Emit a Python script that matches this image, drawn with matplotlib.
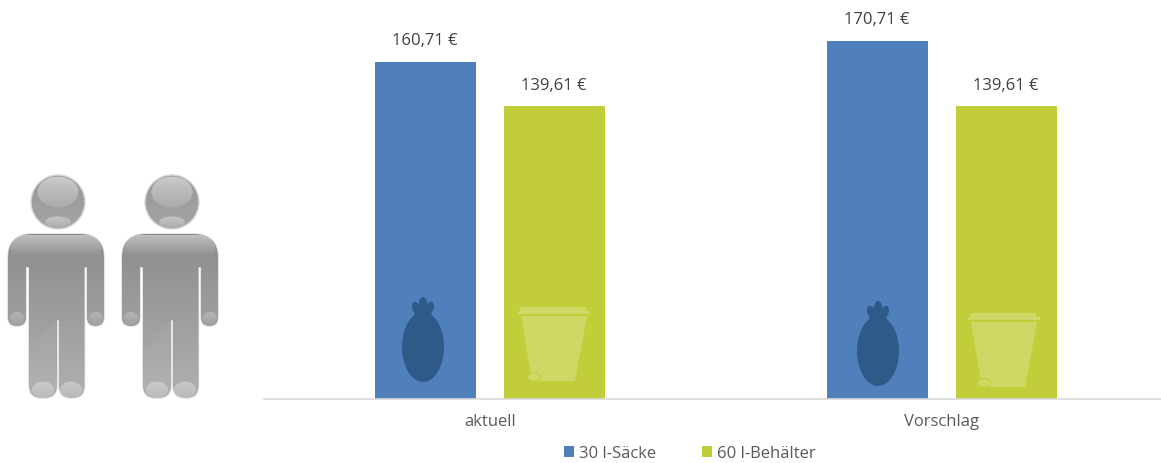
import numpy as np
import matplotlib
matplotlib.use("Agg")
import matplotlib.pyplot as plt
from matplotlib.path import Path
from matplotlib.patches import PathPatch, Ellipse, Polygon, Rectangle

plt.rcParams['font.family'] = ['Open Sans', 'DejaVu Sans']

categories = ["aktuell", "Vorschlag"]
saecke = [160.71, 170.71]
behaelter = [139.61, 139.61]
series_names = ["30 l-Säcke", "60 l-Behälter"]

BLUE = "#4f80bc"
GREEN = "#c1ce3a"
DARK = "#2e5a88"
LIGHT = "#cfd865"
TEXT = "#595959"
W, H = 1161, 463


def rounded(points, radii):
    # closed outline with rounded corners
    verts, codes = [], []
    n = len(points)
    for i in range(n):
        p = np.array(points[i], float)
        a = np.array(points[i - 1], float)
        b = np.array(points[(i + 1) % n], float)
        r = radii[i]
        u = (a - p) / np.linalg.norm(a - p)
        v = (b - p) / np.linalg.norm(b - p)
        verts.append(p + u * r)
        codes.append(Path.MOVETO if i == 0 else Path.LINETO)
        verts += [p, p + v * r]
        codes += [Path.CURVE3, Path.CURVE3]
    verts.append(verts[0])
    codes.append(Path.CLOSEPOLY)
    return Path(verts, codes)


def gradient(ax, clip, box, top, bottom, z=3):
    t = np.linspace(0, 1, 64)[:, None, None]
    c0, c1 = np.array(matplotlib.colors.to_rgba(top)), np.array(matplotlib.colors.to_rgba(bottom))
    img = (1 - t) * c0 + t * c1
    im = ax.imshow(img, extent=box, aspect="auto", zorder=z, interpolation="bilinear")
    im.set_clip_path(clip)


def gloss(ax, patch, box, a_top, a_bottom):
    patch.set_facecolor("none")
    patch.set_edgecolor("none")
    ax.add_patch(patch)
    gradient(ax, patch, box, (1, 1, 1, a_top), (1, 1, 1, a_bottom), z=4)


def person(ax, dx):
    pts = [(8, 234), (104, 234), (104, 326), (87, 326), (87, 267), (84.5, 267),
           (84.5, 398), (59, 398), (59, 320), (57, 320), (57, 398), (29, 398),
           (29, 267), (26, 267), (26, 326), (8, 326)]
    rad = [24, 24, 8.5, 8.5, 1, 1, 12.5, 12.5, 1, 1, 13, 13, 1, 1, 8.5, 8.5]
    body = rounded([(x + dx, y) for x, y in pts], rad)
    ax.add_patch(PathPatch(body, fc="none", ec="#dcdcdc", lw=1.0, zorder=2.9))
    clip = PathPatch(body, fc="none", ec="none")
    ax.add_patch(clip)
    gradient(ax, clip, (dx, dx + 112, 400, 234), "#8c8c8c", "#b0b0b0")

    head = Ellipse((dx + 58, 202), 54, 54, fc="none", ec="none")
    ax.add_patch(head)
    gradient(ax, head, (dx + 30, dx + 86, 230, 174), "#989898", "#a4a4a4")
    ax.add_patch(Ellipse((dx + 58, 202), 54, 54, fc="none", ec="#d8d8d8", lw=1.0, zorder=4))
    gloss(ax, Ellipse((dx + 58, 192), 41, 31), (dx + 36, dx + 80, 208, 176), 0.5, 0.12)
    gloss(ax, Ellipse((dx + 58, 222), 26, 11), (dx + 44, dx + 72, 228, 216), 0.4, 0.1)

    # shoulder gloss
    gloss(ax, PathPatch(rounded([(dx + 13, 235), (dx + 99, 235), (dx + 103, 256), (dx + 9, 256)],
                                [12, 12, 8, 8])), (dx + 8, dx + 104, 256, 235), 0.45, 0.0)
    for hx in (17, 96):
        gloss(ax, Ellipse((dx + hx, 318), 14, 12), (dx + hx - 7, dx + hx + 7, 324, 312), 0.25, 0.03)
    for fx in (43, 71):
        gloss(ax, Ellipse((dx + fx, 390), 22, 17), (dx + fx - 11, dx + fx + 11, 398, 381), 0.35, 0.12)
    # faint sheen over the legs
    ax.add_patch(Polygon([(dx + 30, 398), (dx + 30, 350), (dx + 56, 320), (dx + 56, 398)],
                         fc="white", alpha=0.04, ec="none", zorder=4))


def bag(ax, cx, cy):
    ax.add_patch(Ellipse((cx, cy), 42, 70, fc=DARK, ec="none", zorder=4))
    ax.add_patch(Polygon([(cx - 9, cy - 31), (cx - 7, cy - 38), (cx + 7, cy - 38), (cx + 9, cy - 31)],
                         fc=DARK, ec="none", zorder=4))
    ax.add_patch(Ellipse((cx, cy - 41), 9, 18, fc=DARK, ec="none", zorder=4))
    ax.add_patch(Ellipse((cx - 6.5, cy - 38.5), 8, 14, angle=-22, fc=DARK, ec="none", zorder=4))
    ax.add_patch(Ellipse((cx + 6.5, cy - 38.5), 8, 14, angle=22, fc=DARK, ec="none", zorder=4))


def bin_icon(ax, dx, dy):
    ax.add_patch(Rectangle((520 + dx, 307 + dy), 66, 5, fc=LIGHT, ec="none", zorder=4))
    ax.add_patch(Rectangle((518 + dx, 311 + dy), 72, 3, fc=LIGHT, ec="none", zorder=4))
    ax.add_patch(Polygon([(521 + dx, 316 + dy), (587 + dx, 316 + dy), (575 + dx, 381 + dy), (532 + dx, 381 + dy)],
                         fc=LIGHT, ec="none", zorder=4))
    ax.add_patch(Ellipse((534 + dx, 377 + dy), 13, 9, fc=LIGHT, ec=GREEN, lw=0.8, zorder=4))


fig = plt.figure(figsize=(W / 100, H / 100), dpi=100)
ax = fig.add_axes([264 / W, (H - 399) / H, (W - 264) / W, 399 / H])

x = np.arange(len(categories))
offset = 0.1427
width = 0.2235
b1 = ax.bar(x - offset, saecke, width, color=BLUE, label=series_names[0])
b2 = ax.bar(x + offset, behaelter, width, color=GREEN, label=series_names[1])

for bars, vals in ((b1, saecke), (b2, behaelter)):
    for r, v in zip(bars, vals):
        ax.annotate(f"{v:.2f}".replace(".", ",") + " €", (r.get_x() + r.get_width() / 2, v),
                    xytext=(-0.5, 14.5), textcoords="offset points", ha="center", va="center",
                    fontsize=12, color="#404040")

ax.set_xlim(-0.5, (W - 490) / 452)
ax.set_ylim(0, 190)
ax.set_xticks(x)
ax.set_xticklabels(categories, fontsize=12, color=TEXT)
ax.set_yticks([])
ax.tick_params(axis="x", length=0, pad=11)
for s in ("top", "left", "right"):
    ax.spines[s].set_visible(False)
ax.spines["bottom"].set_color("#d9d9d9")
ax.spines["bottom"].set_linewidth(1.2)

fig.legend(loc="center", bbox_to_anchor=(690 / W, (H - 453.5) / H), ncol=2, frameon=False,
           fontsize=12, labelcolor=TEXT, handlelength=0.6, handleheight=0.6,
           handletextpad=0.3, columnspacing=2.75, borderpad=0)

# icons, in pixel coordinates of the image
over = fig.add_axes([0, 0, 1, 1])
over.axis("off")
over.patch.set_alpha(0)
person(over, 0)
person(over, 114)
over.set_xlim(0, W)
over.set_ylim(H, 0)
over.set_aspect("auto")
bag(over, 423, 347)
bag(over, 878, 351)
bin_icon(over, 0, 0)
bin_icon(over, 450, 6)

fig.savefig("out.png", dpi=100)
